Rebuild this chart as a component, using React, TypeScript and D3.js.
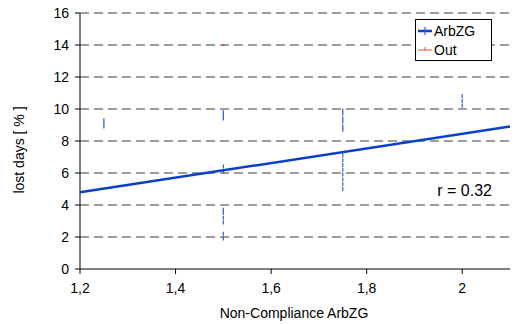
import * as d3 from 'd3';

// Non-compliance stacks (x) with lost-days values (%)
const arbzgX = [1.25, 1.25, 1.25,
  1.5, 1.5, 1.5, 1.5, 1.5, 1.5, 1.5, 1.5, 1.5, 1.5, 1.5,
  1.75, 1.75, 1.75, 1.75, 1.75, 1.75, 1.75, 1.75, 1.75, 1.75, 1.75, 1.75, 1.75, 1.75,
  2.0, 2.0, 2.0];
const arbzgY = [8.9, 9.1, 9.3,
  9.4, 9.6, 9.8, 6.1, 6.4, 2.9, 3.2, 3.5, 3.7, 1.9, 2.2,
  8.7, 8.9, 9.2, 9.4, 9.7, 9.9, 5.0, 5.3, 5.6, 5.9, 6.2, 6.5, 6.8, 7.1,
  10.2, 10.5, 10.8];
const outX = [1.5];
const outY = [14];

const fit = { x: [1.2, 2.1], y: [4.8, 8.9] };
const xTicks = [1.2, 1.4, 1.6, 1.8, 2.0];
const yTicks = [0, 2, 4, 6, 8, 10, 12, 14, 16];

const W = 516, H = 324;
const m = { left: 80, right: 6, top: 13, bottom: 55 };
const font = 'Liberation Sans, Arial, sans-serif';

export default function App() {
  const x = d3.scaleLinear().domain([1.2, 2.1]).range([m.left, W - m.right]);
  const y = d3.scaleLinear().domain([0, 16]).range([H - m.bottom, m.top]);
  const fmt = (v: number) => (v === 2 ? '2' : d3.format('.1f')(v).replace('.', ','));
  const line = d3.line<[number, number]>().x(d => x(d[0])).y(d => y(d[1]));

  return (
    <svg width={W} height={H} style={{ position: 'absolute', left: 0, top: 0, background: '#fff' }} fontFamily={font}>
      {/* grid */}
      {yTicks.filter(t => t > 0).map(t => (
        <line key={t} x1={x(1.2)} x2={x(2.1)} y1={y(t)} y2={y(t)} stroke="#3a3a3a" strokeWidth={1} strokeDasharray="9,5" />
      ))}
      {/* axes */}
      <line x1={x(1.2)} x2={x(1.2)} y1={y(0)} y2={y(16)} stroke="#000" />
      <line x1={x(1.2)} x2={x(2.1)} y1={y(0)} y2={y(0)} stroke="#000" />
      {yTicks.map(t => (
        <g key={t}>
          <line x1={x(1.2) - 5} x2={x(1.2)} y1={y(t)} y2={y(t)} stroke="#000" />
          <text x={x(1.2) - 11} y={y(t)} dy="0.35em" textAnchor="end" fontSize={14}>{t}</text>
        </g>
      ))}
      {xTicks.map(t => (
        <g key={t}>
          <line x1={x(t)} x2={x(t)} y1={y(0)} y2={y(0) + 5} stroke="#000" />
          <text x={x(t)} y={y(0) + 24} textAnchor="middle" fontSize={14}>{fmt(t)}</text>
        </g>
      ))}
      <text x={294} y={318} textAnchor="middle" fontSize={14}>Non-Compliance ArbZG</text>
      <text transform={`translate(24,150) rotate(-90)`} textAnchor="middle" fontSize={14}>lost days [ % ]</text>

      {/* points */}
      {arbzgX.map((v, i) => (
        <line key={i} x1={x(v)} x2={x(v)} y1={y(arbzgY[i]) - 2} y2={y(arbzgY[i]) + 2} stroke="#2e5fd6" strokeWidth={1.2} />
      ))}
      {outX.map((v, i) => (
        <g key={i} stroke="#e0502a" strokeWidth={1}>
          <line x1={x(v) - 1} x2={x(v) + 1} y1={y(outY[i])} y2={y(outY[i])} />
          <line x1={x(v)} x2={x(v)} y1={y(outY[i]) - 1} y2={y(outY[i]) + 1} />
        </g>
      ))}

      {/* regression line */}
      <path d={line([[fit.x[0], fit.y[0]], [fit.x[1], fit.y[1]]]) || ''} stroke="#0a3fc8" strokeWidth={2.5} fill="none" />
      <text x={492} y={196} textAnchor="end" fontSize={16}>r = 0.32</text>

      {/* legend */}
      <rect x={415.5} y={19.5} width={76} height={41} fill="#fff" stroke="#000" />
      <line x1={418} x2={432} y1={31} y2={31} stroke="#0a3fc8" strokeWidth={2.5} />
      <line x1={425} x2={425} y1={27} y2={35} stroke="#2e5fd6" strokeWidth={1.2} />
      <text x={434} y={31} dy="0.35em" fontSize={14}>ArbZG</text>
      <line x1={418} x2={432} y1={50} y2={50} stroke="#e0502a" strokeWidth={1} />
      <line x1={425} x2={425} y1={47} y2={50} stroke="#e0502a" strokeWidth={1} />
      <text x={434} y={50} dy="0.35em" fontSize={14}>Out</text>
    </svg>
  );
}
